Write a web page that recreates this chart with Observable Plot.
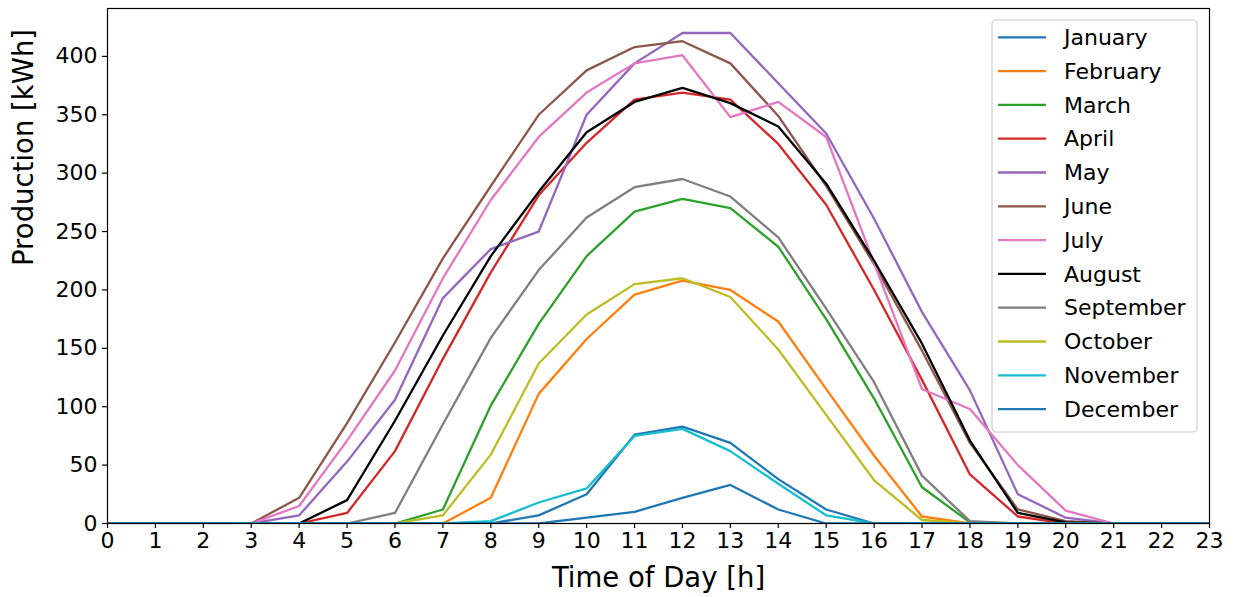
<!DOCTYPE html>
<html>
<head>
<meta charset="utf-8">
<script src="https://cdn.jsdelivr.net/npm/d3@7"></script>
<script src="https://cdn.jsdelivr.net/npm/@observablehq/plot@0.6"></script>
<style>
  html, body { margin: 0; padding: 0; background: #fff; }
  #chart { width: 1234px; height: 597px; }
</style>
</head>
<body>
<div id="chart"></div>
<script>
// Hours of the day (x axis ticks) and production tick values (y axis)
const hours = d3.range(24);
const yTicks = [0, 50, 100, 150, 200, 250, 300, 350, 400];

const months = ["January", "February", "March", "April", "May", "June",
  "July", "August", "September", "October", "November", "December"];

const monthColors = ["#1f77b4", "#ff7f0e", "#2ca02c", "#d62728", "#9467bd", "#8c564b",
  "#e377c2", "#000000", "#7f7f7f", "#bcbd22", "#17becf", "#1f77b4"];

// Average hourly production per month, kWh (hours 0..23)
const january   = [0,0,0,0,0,0,0,0,0,7,25,76,83,69,38,12,0,0,0,0,0,0,0,0];
const february  = [0,0,0,0,0,0,0,0,22,111,158,196,208,200,173,115,58,6,0,0,0,0,0,0];
const march     = [0,0,0,0,0,0,0,12,101,171,229,267,278,270,237,175,107,31,1,0,0,0,0,0];
const april     = [0,0,0,0,0,9,62,141,215,281,326,363,369,363,325,273,200,123,42,6,0,0,0,0];
const may       = [0,0,0,0,7,53,106,193,235,250,350,394,420,420,377,334,261,181,114,25,5,0,0,0];
const june      = [0,0,0,0,22,86,155,227,289,350,388,408,413,394,349,289,222,148,69,12,2,0,0,0];
const july      = [0,0,0,0,15,71,131,210,277,331,369,394,401,348,361,331,223,115,98,50,11,0,0,0];
const august    = [0,0,0,0,0,20,88,161,229,284,335,361,373,360,340,291,225,154,71,9,1,0,0,0];
const september = [0,0,0,0,0,0,9,85,159,217,262,288,295,280,245,184,121,41,2,0,0,0,0,0];
const october   = [0,0,0,0,0,0,0,7,59,137,179,205,210,194,149,93,37,3,0,0,0,0,0,0];
const november  = [0,0,0,0,0,0,0,0,2,18,30,75,81,62,34,7,0,0,0,0,0,0,0,0];
const december  = [0,0,0,0,0,0,0,0,0,0,5,10,22,33,12,0,0,0,0,0,0,0,0,0];

const series = [january, february, march, april, may, june,
  july, august, september, october, november, december];

// Long-format table for the line mark
const rows = months.flatMap((month, i) =>
  series[i].map((kwh, h) => ({month, hour: hours[h], kwh})));

const W = 1234, H = 597;
const M = {left: 107, right: 25, top: 8, bottom: 74};
const FONT = "DejaVu Sans";
const TICK_FONT = 22;

const chart = Plot.plot({
  width: W,
  height: H,
  marginLeft: M.left,
  marginRight: M.right,
  marginTop: M.top,
  marginBottom: M.bottom,
  style: {fontFamily: FONT, fontSize: `${TICK_FONT}px`, color: "#000", background: "#fff", overflow: "visible"},
  x: {domain: [0, 23]},
  y: {domain: [0, 441]},
  color: {domain: months, range: monthColors},
  marks: [
    Plot.line(rows, {x: "hour", y: "kwh", z: "month", stroke: "month",
      strokeWidth: 2.3, strokeLinejoin: "round", clip: "frame"}),
    Plot.frame({stroke: "#000", strokeWidth: 1.2}),
    Plot.axisX({ticks: hours, tickFormat: d => String(d), tickSize: 5, tickPadding: 4,
      strokeWidth: 1.2, fontSize: TICK_FONT, label: null}),
    Plot.axisY({ticks: yTicks, tickFormat: d => String(d), tickSize: 5, tickPadding: 5,
      strokeWidth: 1.2, fontSize: TICK_FONT, label: null}),
    Plot.text(["Time of Day [h]"], {text: d => d, frameAnchor: "bottom", dy: 55,
      fontSize: 27.5, lineAnchor: "middle", fill: "#000"}),
    Plot.text(["Production [kWh]"], {text: d => d, frameAnchor: "left", dx: -83, rotate: -90,
      fontSize: 27.5, lineAnchor: "middle", fill: "#000"})
  ]
});

document.getElementById("chart").appendChild(chart);

// Legend box in the upper right corner of the plotting area
const legend = d3.select(chart).append("g")
  .attr("font-family", FONT)
  .attr("font-size", TICK_FONT)
  .attr("text-anchor", "start");

const box = {x: 992, y: 20, w: 205, h: 412};
const rowTop = 37.3, rowStep = 33.8;

legend.append("rect")
  .attr("x", box.x).attr("y", box.y)
  .attr("width", box.w).attr("height", box.h)
  .attr("rx", 4)
  .attr("fill", "#fff").attr("fill-opacity", 0.8)
  .attr("stroke", "#cccccc").attr("stroke-width", 1.2);

const entry = legend.selectAll("g.entry")
  .data(months)
  .join("g")
  .attr("class", "entry")
  .attr("transform", (d, i) => `translate(0,${rowTop + i * rowStep})`);

entry.append("line")
  .attr("x1", 998).attr("x2", 1046)
  .attr("stroke", (d, i) => monthColors[i])
  .attr("stroke-width", 2.3);

entry.append("text")
  .attr("x", 1064)
  .attr("dy", "0.35em")
  .attr("text-anchor", "start")
  .attr("fill", "#000")
  .text(d => d);
</script>
</body>
</html>
